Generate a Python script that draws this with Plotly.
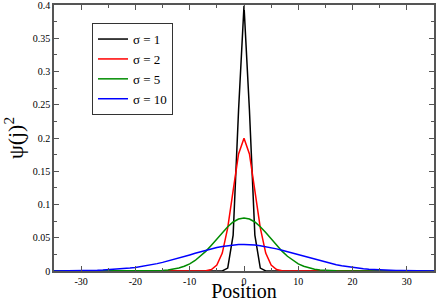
import plotly.graph_objects as go

positions = list(range(-35, 36))

sigma1 = [0.0] * 31 + [0.0001, 0.0044, 0.0540, 0.2420, 0.3989, 0.2420, 0.0540, 0.0044, 0.0001] + [0.0] * 31

sigma2 = [0.0] * 27 + [0.0001, 0.0004, 0.0022, 0.0088, 0.0270, 0.0648, 0.1210, 0.1760,
                       0.1995,
                       0.1760, 0.1210, 0.0648, 0.0270, 0.0088, 0.0022, 0.0004, 0.0001] + [0.0] * 27

sigma5 = [0.0] * 17 + [0.0001, 0.0002, 0.0005, 0.0009, 0.0016, 0.0027, 0.0045, 0.0071, 0.0108,
                       0.0158, 0.0222, 0.0299, 0.0388, 0.0484, 0.0579, 0.0666, 0.0737, 0.0782,
                       0.0798,
                       0.0782, 0.0737, 0.0666, 0.0579, 0.0484, 0.0388, 0.0299, 0.0222, 0.0158,
                       0.0108, 0.0071, 0.0045, 0.0027, 0.0016, 0.0009, 0.0005, 0.0002, 0.0001] + [0.0] * 17

sigma10 = [0.0001, 0.0001, 0.0002, 0.0002, 0.0003, 0.0004, 0.0006, 0.0008, 0.0010, 0.0014,
           0.0018, 0.0022, 0.0028, 0.0035, 0.0044, 0.0054, 0.0066, 0.0079, 0.0094, 0.0111,
           0.0130, 0.0150, 0.0171, 0.0194, 0.0218, 0.0242, 0.0266, 0.0290, 0.0312, 0.0333,
           0.0352, 0.0368, 0.0381, 0.0391, 0.0397,
           0.0399,
           0.0397, 0.0391, 0.0381, 0.0368, 0.0352, 0.0333, 0.0312, 0.0290, 0.0266, 0.0242,
           0.0218, 0.0194, 0.0171, 0.0150, 0.0130, 0.0111, 0.0094, 0.0079, 0.0066, 0.0054,
           0.0044, 0.0035, 0.0028, 0.0022, 0.0018, 0.0014, 0.0010, 0.0008, 0.0006, 0.0004,
           0.0003, 0.0002, 0.0002, 0.0001, 0.0001]

series_names = ["σ = 1", "σ = 2", "σ = 5", "σ = 10"]
series_values = [sigma1, sigma2, sigma5, sigma10]
series_colors = ["#000000", "#ff0000", "#008c00", "#0000ff"]

y_ticks = [0, 0.05, 0.1, 0.15, 0.2, 0.25, 0.3, 0.35, 0.4]
y_tick_labels = ["0", "0.05", "0.1", "0.15", "0.2", "0.25", "0.3", "0.35", "0.4"]
x_ticks = [-30, -20, -10, 0, 10, 20, 30]
x_tick_labels = ["-30", "-20", "-10", "0", "10", "20", "30"]

serif = "'Liberation Serif', 'Times New Roman', Times, serif"

fig = go.Figure()
for name, vals, col in zip(series_names, series_values, series_colors):
    fig.add_trace(go.Scatter(x=positions, y=vals, mode="lines", name=name,
                             line=dict(color=col, width=1.5), cliponaxis=False))

axis_common = dict(showline=True, linecolor="#555555", linewidth=1.5, mirror="allticks",
                   ticks="inside", ticklen=5, tickwidth=1, tickcolor="#555555",
                   showgrid=False, zeroline=False, automargin=False,
                   ticklabeloverflow="allow",
                   tickfont=dict(family=serif, size=10, color="black"))

fig.update_layout(
    width=436, height=302,
    margin=dict(l=54, r=2, t=5, b=31),
    paper_bgcolor="white", plot_bgcolor="white",
    font=dict(family=serif),
    showlegend=True,
    legend=dict(x=0.1, y=0.932, xanchor="left", yanchor="top",
                bordercolor="#333333", borderwidth=1, bgcolor="white",
                font=dict(family=serif, size=13, color="black"),
                itemwidth=30, tracegroupgap=0),
    xaxis=dict(range=[-35, 35], tickvals=x_ticks, ticktext=x_tick_labels,
               minor=dict(ticks="inside", ticklen=3, dtick=5, tick0=0, tickcolor="#555555"),
               title=dict(text="Position", font=dict(family=serif, size=20, color="black"),
                          standoff=6),
               **axis_common),
    yaxis=dict(range=[0, 0.4], tickvals=y_ticks, ticktext=y_tick_labels,
               minor=dict(ticks="inside", ticklen=3, dtick=0.025, tick0=0, tickcolor="#555555"),
               title=dict(text="ψ(j)<sup>2</sup>", font=dict(family=serif, size=22, color="black"),
                          standoff=5),
               **axis_common),
)

fig.write_html("out.html", config={"displayModeBar": False},
               post_script="document.body.style.margin='0';document.body.style.padding='0';")
